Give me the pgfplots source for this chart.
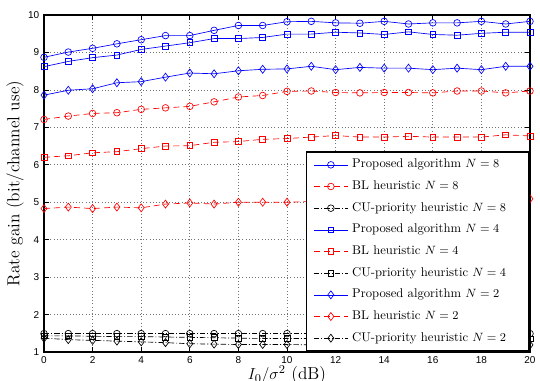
\documentclass[border=0pt]{standalone}
\usepackage{fontspec}
\usepackage{pgfplots}
\usepackage{pgfplotstable}
\pgfplotsset{compat=1.18}
\newfontfamily\tickfont{Liberation Sans}
\newcommand{\legtxt}[1]{\makebox[127.5pt][l]{#1}}
\pgfplotstableread{
x  P8   BL8  CU8  P4   BL4  CU4  P2   BL2  CU2
0  8.87 7.21 1.49 8.62 6.20 1.43 7.86 4.83 1.37
1  9.01 7.30 1.49 8.76 6.24 1.43 7.99 4.87 1.33
2  9.11 7.37 1.49 8.86 6.32 1.42 8.03 4.83 1.31
3  9.23 7.39 1.49 8.93 6.35 1.41 8.19 4.87 1.29
4  9.34 7.48 1.49 9.08 6.43 1.41 8.22 4.85 1.27
5  9.45 7.52 1.49 9.17 6.50 1.40 8.34 4.95 1.25
6  9.45 7.56 1.49 9.26 6.51 1.39 8.45 4.98 1.22
7  9.59 7.68 1.49 9.37 6.60 1.38 8.43 4.95 1.21
8  9.72 7.81 1.49 9.37 6.62 1.37 8.51 5.00 1.20
9  9.72 7.85 1.49 9.40 6.68 1.36 8.55 5.00 1.20
10 9.82 7.96 1.49 9.49 6.70 1.36 8.56 5.00 1.20
11 9.83 7.97 1.49 9.49 6.74 1.36 8.63 5.02 1.19
12 9.79 7.93 1.49 9.54 6.78 1.35 8.54 5.03 1.19
13 9.78 7.92 1.49 9.52 6.74 1.35 8.60 5.04 1.19
14 9.83 7.93 1.49 9.48 6.74 1.35 8.58 5.05 1.19
15 9.76 7.93 1.49 9.55 6.76 1.35 8.58 5.05 1.19
16 9.79 7.92 1.49 9.48 6.74 1.35 8.54 5.06 1.19
17 9.79 7.97 1.49 9.46 6.74 1.35 8.58 5.07 1.19
18 9.83 7.97 1.49 9.51 6.74 1.35 8.54 5.07 1.19
19 9.76 7.92 1.49 9.54 6.80 1.35 8.63 5.08 1.19
20 9.83 7.97 1.49 9.54 6.77 1.35 8.63 5.09 1.19
}\datatable
\begin{document}
\begin{tikzpicture}
\begin{axis}[
  scale only axis, width=364.5pt, height=252.75pt,
  xmin=0, xmax=20, ymin=1, ymax=10,
  xtick={0,2,...,20}, ytick={1,2,...,10},
  grid=major, major grid style={dotted, black!55, line width=0.5pt},
  tick align=inside, major tick length=4pt,
  axis line style={line width=1.2pt},
  every tick/.style={black, line width=0.5pt},
  ticklabel style={font=\tickfont\fontsize{7.5}{9}\selectfont},
  /pgf/number format/assume math mode=true,
  xlabel={$I_0/\sigma^2$ (dB)},
  ylabel={Rate gain (bit/channel use)},
  label style={font=\fontsize{13}{15}\selectfont},
  xlabel style={at={(axis description cs:0.5,-0.0415)}, anchor=north, inner sep=0pt},
  ylabel style={at={(axis description cs:-0.0597,0.5)}, anchor=center, inner sep=0pt},
  legend image code/.code={\draw[mark repeat=2,mark phase=2] plot coordinates {(0pt,0pt) (12.75pt,0pt) (25.5pt,0pt)};},
  legend style={at={(1,0)}, anchor=south east, draw=black, line width=1.2pt,
    font=\fontsize{9.5}{11}\selectfont, inner xsep=5.25pt, inner ysep=5pt,
    row sep=6.75pt,
    nodes={inner xsep=0pt, inner ysep=0pt, text height=7pt, text depth=2.5pt},
    /tikz/every odd column/.append style={column sep=3pt}},
  legend cell align=left,
  every axis plot/.append style={line width=0.5pt},
]
\addplot[blue, solid, mark=o, mark size=2.5pt, mark options={solid}] table[x=x,y=P8] {\datatable};
\addlegendentry{\legtxt{Proposed algorithm $N=8$}}
\addplot[red, dash pattern=on 4.5pt off 3pt, mark=o, mark size=2.5pt, mark options={solid}] table[x=x,y=BL8] {\datatable};
\addlegendentry{\legtxt{BL heuristic $N=8$}}
\addplot[black, dash pattern=on 4pt off 1.5pt on 0.8pt off 1.5pt, mark=o, mark size=2.5pt, mark options={solid}] table[x=x,y=CU8] {\datatable};
\addlegendentry{\legtxt{CU-priority heuristic $N=8$}}
\addplot[blue, solid, mark=square, mark size=2.2pt, mark options={solid}] table[x=x,y=P4] {\datatable};
\addlegendentry{\legtxt{Proposed algorithm $N=4$}}
\addplot[red, dash pattern=on 4.5pt off 3pt, mark=square, mark size=2.2pt, mark options={solid}] table[x=x,y=BL4] {\datatable};
\addlegendentry{\legtxt{BL heuristic $N=4$}}
\addplot[black, dash pattern=on 4pt off 1.5pt on 0.8pt off 1.5pt, mark=square, mark size=2.2pt, mark options={solid}] table[x=x,y=CU4] {\datatable};
\addlegendentry{\legtxt{CU-priority heuristic $N=4$}}
\addplot[blue, solid, mark=diamond, mark size=3pt, mark options={solid}] table[x=x,y=P2] {\datatable};
\addlegendentry{\legtxt{Proposed algorithm $N=2$}}
\addplot[red, dash pattern=on 4.5pt off 3pt, mark=diamond, mark size=3pt, mark options={solid}] table[x=x,y=BL2] {\datatable};
\addlegendentry{\legtxt{BL heuristic $N=2$}}
\addplot[black, dash pattern=on 4pt off 1.5pt on 0.8pt off 1.5pt, mark=diamond, mark size=3pt, mark options={solid}] table[x=x,y=CU2] {\datatable};
\addlegendentry{\legtxt{CU-priority heuristic $N=2$}}
\end{axis}
\pgfresetboundingbox
\path[use as bounding box] ([xshift=-33pt,yshift=-21.75pt]current axis.south west) rectangle ([xshift=7.5pt,yshift=11.25pt]current axis.north east);
\end{tikzpicture}
\end{document}
